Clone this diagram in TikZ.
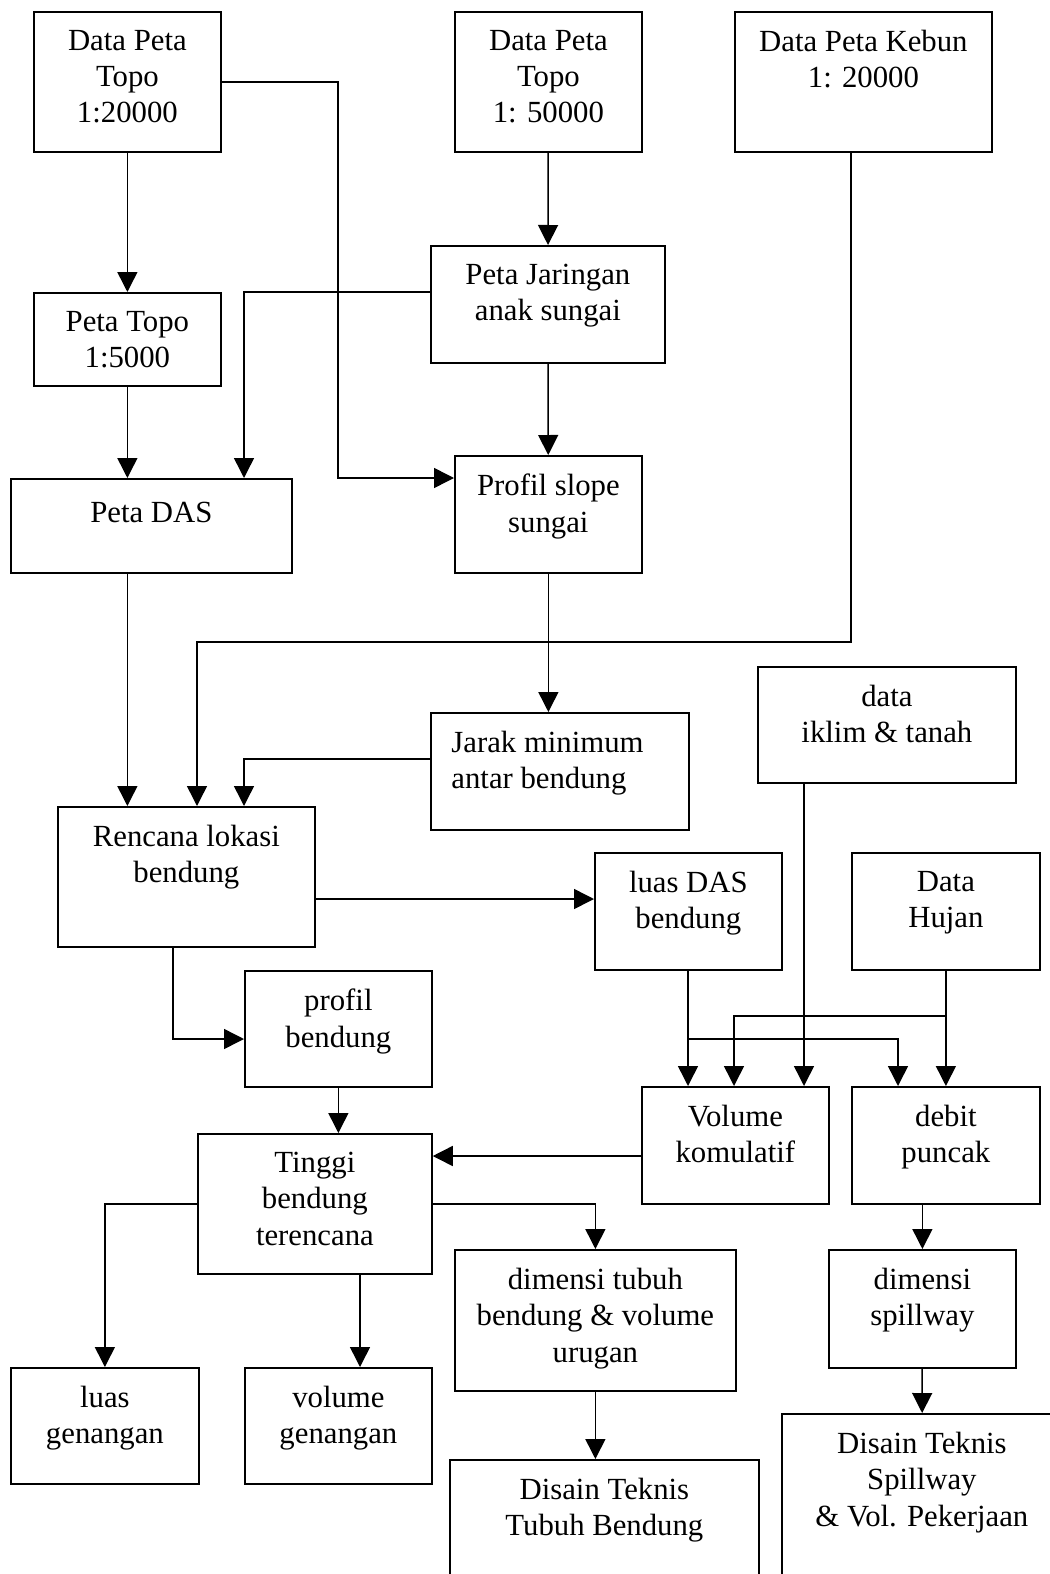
\documentclass[tikz,border=0pt]{standalone}
\usepackage{fontspec}
\setmainfont{Liberation Serif}
\usetikzlibrary{arrows.meta,calc}
\tikzset{
  box/.style 2 args={draw, line width=1pt, anchor=north west, inner sep=0pt,
    minimum width=#1*0.02cm, minimum height=#2*0.02cm},
  txt/.style={anchor=north, align=center, inner xsep=7.5pt, inner ysep=10.8pt,
    font=\fontsize{17.5}{20.6}\selectfont, execute at begin node=\strut},
  arr/.style={line width=0.85pt, -{Triangle[length=0.4cm,width=0.4cm]}}
}
\begin{document}
\begin{tikzpicture}[x=0.02cm, y=-0.02cm]
  \useasboundingbox (0,0) rectangle (1050,1574);
  \clip (0,0) rectangle (1050,1574);
  % boxes
  \node[box={187}{140}, label={[txt]north:{Data Peta\\Topo\\1:20000}}] (dpta) at (33,11) {};
  \node[box={187}{140}, label={[txt]north:{Data Peta\\Topo\\1: 50000}}] (dptb) at (454,11) {};
  \node[box={257}{140}, label={[txt]north:{Data Peta Kebun\\1: 20000}}] (dpk) at (734,11) {};
  \node[box={187}{93}, label={[txt]north:{Peta Topo\\1:5000}}] (pt) at (33,292) {};
  \node[box={234}{117}, label={[txt]north:{Peta Jaringan\\anak sungai}}] (pjas) at (430,245) {};
  \node[box={281}{94}, label={[txt]north:{Peta DAS}}] (pdas) at (10,478) {};
  \node[box={187}{117}, label={[txt]north:{Profil slope\\sungai}}] (pss) at (454,455) {};
  \node[box={258}{117}, label={[txt, anchor=north west, align=left, inner xsep=12pt]north west:{Jarak minimum\\antar bendung}}] (jmab) at (430,712) {};
  \node[box={258}{116}, label={[txt]north:{data\\iklim \& tanah}}] (dit) at (757,666) {};
  \node[box={257}{140}, label={[txt]north:{Rencana lokasi\\bendung}}] (rlb) at (57,806) {};
  \node[box={187}{117}, label={[txt]north:{luas DAS\\bendung}}] (ldas) at (594,852) {};
  \node[box={188}{117}, label={[txt]north:{Data\\Hujan}}] (dh) at (851,852) {};
  \node[box={187}{116}, label={[txt]north:{profil\\bendung}}] (pb) at (244,970) {};
  \node[box={187}{117}, label={[txt]north:{Volume\\komulatif}}] (vk) at (641,1086) {};
  \node[box={188}{117}, label={[txt]north:{debit\\puncak}}] (dp) at (851,1086) {};
  \node[box={234}{140}, label={[txt]north:{Tinggi\\bendung\\terencana}}] (tbt) at (197,1133) {};
  \node[box={281}{141}, label={[txt]north:{dimensi tubuh\\bendung \& volume\\urugan}}] (dtb) at (454,1249) {};
  \node[box={187}{118}, label={[txt]north:{dimensi\\spillway}}] (dsp) at (828,1249) {};
  \node[box={188}{116}, label={[txt]north:{luas\\genangan}}] (lg) at (10,1367) {};
  \node[box={187}{116}, label={[txt]north:{volume\\genangan}}] (vg) at (244,1367) {};
  \node[box={309}{160}, label={[txt]north:{Disain Teknis\\Tubuh Bendung}}] (dttb) at (449,1459) {};
  \node[box={280}{190}, label={[txt]north:{Disain Teknis\\Spillway\\\& Vol. Pekerjaan}}] (dtsp) at (781,1413) {};
  % bends of the connectors
  \coordinate (c1) at (338,478);
  \coordinate (c2) at (244,292);
  \coordinate (c3) at (851,642);
  \coordinate (c4) at (197,642);
  \coordinate (c5) at (244,759);
  \coordinate (c6) at (173,1039);
  \coordinate (c7) at (688,1039);
  \coordinate (c8) at (898,1039);
  \coordinate (c9) at (945,1016);
  \coordinate (c10) at (734,1016);
  \coordinate (c11) at (314,899);
  \coordinate (c12) at (804,782);
  \coordinate (c13) at (641,1156);
  \coordinate (c14) at (360,1273);
  % connectors
  \draw[arr] (dpta) -- (pt);
  \draw[arr] (dpta.east) -| (c1) -- (pss.west |- c1);
  \draw[arr] (dptb) -- (pjas);
  \draw[arr] (pjas.west |- c2) -| (pdas.north -| c2);
  \draw[arr] (pjas) -- (pss);
  \draw[arr] (pt.south) -- (pdas.north -| pt.south);
  \draw[arr] (dpk.south -| c3) -- (c3) -| (rlb.north -| c4);
  \draw[arr] (pdas.south -| pt.south) -- (rlb.north -| pt.south);
  \draw[arr] (pss.south) -- (jmab.north -| pss.south);
  \draw[arr] (jmab.west |- c5) -| (rlb.north -| c5);
  \draw[arr] (rlb.east |- c11) -- (ldas.west |- c11);
  \draw[arr] (rlb.south -| c6) |- (pb.west |- c6);
  \draw[arr] (ldas.south -| c7) -- (vk.north -| c7);
  \draw[arr] (c7) -| (dp.north -| c8);
  \draw[arr] (dh) -- (dp);
  \draw[arr] (c9) -| (vk.north -| c10);
  \draw[arr] (dit.south -| c12) -- (vk.north -| c12);
  \draw[arr] (pb.south) -- (tbt.north -| pb.south);
  \draw[arr] (vk.west |- c13) -- (tbt.east |- c13);
  \draw[arr] (tbt.west) -| (lg.north);
  \draw[arr] (tbt.south -| c14) -- (vg.north -| c14);
  \draw[arr] (tbt.east) -| (dtb.north);
  \draw[arr] (dtb.south) -- (dttb.north -| dtb.south);
  \draw[arr] (dp.south -| dsp.north) -- (dsp.north);
  \draw[arr] (dsp) -- (dtsp);
\end{tikzpicture}
\end{document}
